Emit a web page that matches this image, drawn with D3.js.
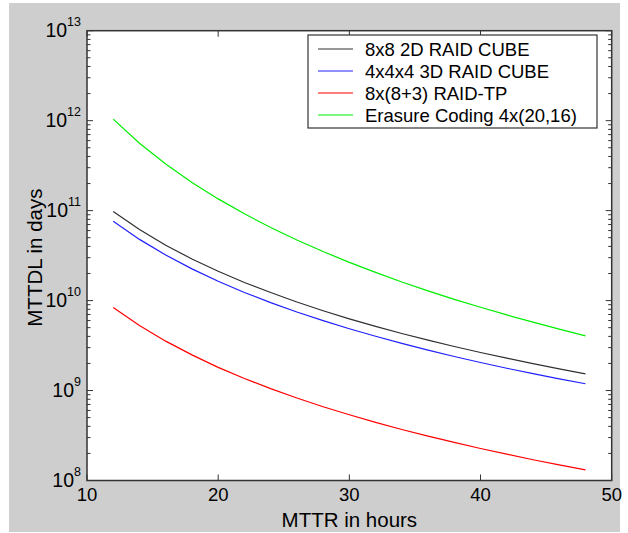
<!DOCTYPE html>
<html>
<head>
<meta charset="utf-8">
<script src="https://cdn.jsdelivr.net/npm/d3@7"></script>
<style>
  html, body { margin: 0; padding: 0; background: #fff; }
  svg { display: block; font-family: "Liberation Sans", Arial, sans-serif; }
</style>
</head>
<body>
<div id="chart"></div>
<script>
// MTTR (hours) on the x axis
const mttr = [12, 14, 16, 18, 20, 22, 24, 26, 28, 30, 32, 34, 36, 38, 40, 42, 44, 46, 48];

// MTTDL (days)
const cube2d = [9.8e10, 6.17e10, 4.13e10, 2.90e10, 2.12e10, 1.59e10, 1.23e10, 9.63e9, 7.71e9, 6.27e9,
  5.17e9, 4.31e9, 3.63e9, 3.09e9, 2.65e9, 2.29e9, 1.99e9, 1.74e9, 1.53e9];
const cube3d = [7.6e10, 4.79e10, 3.21e10, 2.25e10, 1.64e10, 1.23e10, 9.50e9, 7.47e9, 5.98e9, 4.86e9,
  4.01e9, 3.34e9, 2.81e9, 2.39e9, 2.05e9, 1.77e9, 1.54e9, 1.35e9, 1.19e9];
const raidTp = [8.4e9, 5.29e9, 3.54e9, 2.49e9, 1.81e9, 1.36e9, 1.05e9, 8.26e8, 6.61e8, 5.38e8,
  4.43e8, 3.69e8, 3.11e8, 2.65e8, 2.27e8, 1.96e8, 1.70e8, 1.49e8, 1.31e8];
const erasure = [1.04e12, 5.61e11, 3.29e11, 2.05e11, 1.35e11, 9.21e10, 6.50e10, 4.72e10, 3.51e10, 2.66e10,
  2.06e10, 1.61e10, 1.28e10, 1.03e10, 8.42e9, 6.93e9, 5.75e9, 4.82e9, 4.06e9];

const seriesNames = ['8x8 2D RAID CUBE', '4x4x4 3D RAID CUBE', '8x(8+3) RAID-TP', 'Erasure Coding 4x(20,16)'];
const seriesColors = ['#303030', '#2020ff', '#ff0000', '#00ee00'];

const xTicks = [10, 20, 30, 40, 50];
const yExponents = [8, 9, 10, 11, 12, 13];

const W = 628, H = 533;
const plotL = 87, plotR = 611.7, plotT = 30.7, plotB = 480.5;

const svg = d3.select('#chart').append('svg')
  .attr('width', W)
  .attr('height', H);

// grey figure background
svg.append('rect')
  .attr('x', 9).attr('y', 3)
  .attr('width', 611).attr('height', 529)
  .attr('fill', '#cecece');

// white axes area
svg.append('rect')
  .attr('x', plotL).attr('y', plotT)
  .attr('width', plotR - plotL).attr('height', plotB - plotT)
  .attr('fill', '#fff');

const x = d3.scaleLinear().domain([10, 50]).range([plotL, plotR]);
const y = d3.scaleLog().domain([1e8, 1e13]).range([plotB, plotT]);

const axisColor = '#333';

// ticks: x major on bottom and top, pointing inward
const tickG = svg.append('g').attr('stroke', axisColor).attr('stroke-width', 1);
xTicks.forEach(v => {
  tickG.append('line').attr('x1', x(v)).attr('x2', x(v)).attr('y1', plotB).attr('y2', plotB - 6);
  tickG.append('line').attr('x1', x(v)).attr('x2', x(v)).attr('y1', plotT).attr('y2', plotT + 6);
});

// y log ticks, major and minor, on left and right
const logTicks = y.ticks();
logTicks.forEach(v => {
  const major = Math.abs(Math.log10(v) - Math.round(Math.log10(v))) < 1e-9;
  const len = major ? 6 : 3.5;
  tickG.append('line').attr('x1', plotL).attr('x2', plotL + len).attr('y1', y(v)).attr('y2', y(v));
  tickG.append('line').attr('x1', plotR).attr('x2', plotR - len).attr('y1', y(v)).attr('y2', y(v));
});

// axes box
svg.append('rect')
  .attr('x', plotL).attr('y', plotT)
  .attr('width', plotR - plotL).attr('height', plotB - plotT)
  .attr('fill', 'none')
  .attr('stroke', axisColor)
  .attr('stroke-width', 1.5);

// x tick labels
svg.append('g').selectAll('text')
  .data(xTicks)
  .join('text')
  .attr('x', d => x(d))
  .attr('y', 500.7)
  .attr('text-anchor', 'middle')
  .attr('font-size', 18.5)
  .attr('fill', '#000')
  .text(d => d);

// y tick labels as 10^n
const yl = svg.append('g').selectAll('text')
  .data(yExponents)
  .join('text')
  .attr('x', 81)
  .attr('y', d => y(Math.pow(10, d)) + 6.5)
  .attr('text-anchor', 'end')
  .attr('fill', '#000');
yl.append('tspan').attr('font-size', 19.5).text('10');
yl.append('tspan').attr('font-size', 12.5).attr('dy', -11).text(d => d);

// axis titles
svg.append('text')
  .attr('x', (plotL + plotR) / 2)
  .attr('y', 526.5)
  .attr('text-anchor', 'middle')
  .attr('font-size', 20.5)
  .attr('fill', '#000')
  .text('MTTR in hours');

svg.append('text')
  .attr('transform', `translate(41.7,${(plotT + plotB) / 2 + 2}) rotate(-90)`)
  .attr('text-anchor', 'middle')
  .attr('font-size', 20.5)
  .attr('fill', '#000')
  .text('MTTDL in days');

// lines
const allSeries = [cube2d, cube3d, raidTp, erasure];
const line = d3.line()
  .x((d, i) => x(mttr[i]))
  .y(d => y(d));

svg.append('g').selectAll('path')
  .data(allSeries)
  .join('path')
  .attr('d', d => line(d))
  .attr('fill', 'none')
  .attr('stroke', (d, i) => seriesColors[i])
  .attr('stroke-width', 1.2);

// legend
const lg = svg.append('g');
lg.append('rect')
  .attr('x', 308).attr('y', 35)
  .attr('width', 289).attr('height', 93)
  .attr('fill', '#fff')
  .attr('stroke', axisColor)
  .attr('stroke-width', 1.2);

seriesNames.forEach((name, i) => {
  const cy = 49 + i * 22;
  lg.append('line')
    .attr('x1', 318).attr('x2', 353)
    .attr('y1', cy).attr('y2', cy)
    .attr('stroke', seriesColors[i])
    .attr('stroke-width', 1.2);
  lg.append('text')
    .attr('x', 365)
    .attr('y', cy + 7)
    .attr('font-size', 18.5)
    .attr('fill', '#000')
    .text(name);
});
</script>
</body>
</html>
